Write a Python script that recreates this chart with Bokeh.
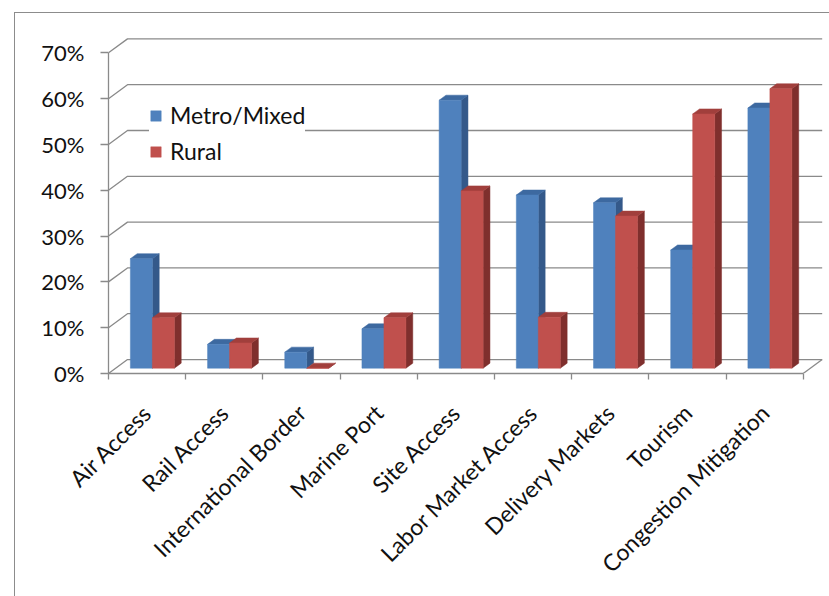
import math

from bokeh.embed import file_html
from bokeh.models import (ColumnDataSource, FixedTicker, InlineStyleSheet, Legend,
                          LegendItem, PrintfTickFormatter, Range1d)
from bokeh.plotting import figure
from bokeh.resources import INLINE

# ---- data -------------------------------------------------------------
categories = ["Air Access", "Rail Access", "International Border", "Marine Port",
              "Site Access", "Labor Market Access", "Delivery Markets", "Tourism",
              "Congestion Mitigation"]
metro_mixed = [23.9, 5.2, 3.5, 8.6, 58.5, 37.8, 36.1, 25.8, 56.8]
rural = [11.0, 5.5, 0.0, 11.0, 38.7, 11.1, 33.2, 55.5, 61.0]
series_names = ["Metro/Mixed", "Rural"]
y_ticks = [0, 10, 20, 30, 40, 50, 60, 70]

# ---- styling / 3-D projection constants ----------------------------------
FONT = "Lato"
TEXT = "#111111"
GRID = "#8a8a8a"
FRONT = ["#4f81bd", "#c0504d"]
TOP = ["#3d69a0", "#a13f3c"]
SIDE = ["#34598a", "#7f2f2d"]

W, H = 829, 596
LEFT, RIGHT, TOP_B, BOTTOM = 108, 5, 37, 223
DEPTH_X = 0.246      # oblique depth of the wall, in category units
DEPTH_Y = 3.05       # oblique depth of the wall, in percent units
BAR_FRONT = 0.38     # depth fraction where the bar front faces stand
BAR_DEPTH = 0.36     # depth fraction occupied by a bar
BAR_W = 0.285        # width of one bar in category units
PAIR_START = 0.19    # offset of the first bar inside its category
LABEL_SHIFT = 0.0

n = len(categories)
x_end = n + DEPTH_X + 0.03
y_end = y_ticks[-1] + DEPTH_Y + 0.3

# thin chart-area border along the top and left edges of the page
border_css = InlineStyleSheet(css="""
:host { position: relative; }
:host::after {
  content: "";
  position: absolute;
  left: 14px; top: 12px; right: 0; bottom: 0;
  border-left: 1.5px solid #8c8c8c;
  border-top: 1.5px solid #8c8c8c;
  pointer-events: none;
}
""")

p = figure(width=W, height=H, output_backend="svg", toolbar_location=None,
           x_range=Range1d(0, x_end), y_range=Range1d(0, y_end),
           min_border_left=LEFT, min_border_right=RIGHT,
           min_border_top=TOP_B, min_border_bottom=BOTTOM,
           background_fill_color="white", border_fill_color="white",
           stylesheets=[border_css])
p.outline_line_color = None
p.xgrid.visible = False
p.ygrid.visible = False

# ---- walls: back-wall gridlines with their left-wall diagonals ----------
grid_src = ColumnDataSource(dict(
    xs=[[0, DEPTH_X, n + DEPTH_X] for _ in y_ticks],
    ys=[[v, v + DEPTH_Y, v + DEPTH_Y] for v in y_ticks],
))
p.multi_line("xs", "ys", source=grid_src, line_color=GRID, line_width=1.3)
# right edge of the floor
p.line([n, n + DEPTH_X], [0, DEPTH_Y], line_color=GRID, line_width=1.3)

# ---- 3-D bars -------------------------------------------------------------
front_renderers = []
for s, values in enumerate([metro_mixed, rural]):
    left = [i + PAIR_START + s * BAR_W + BAR_FRONT * DEPTH_X for i in range(n)]
    right = [x + BAR_W for x in left]
    base = BAR_FRONT * DEPTH_Y
    tops = [v + base for v in values]
    ddx, ddy = BAR_DEPTH * DEPTH_X, BAR_DEPTH * DEPTH_Y
    side_xs = [[r, r + ddx, r + ddx, r] for r in right]
    side_ys = [[base, base + ddy, t + ddy, t] for t in tops]
    top_xs = [[l, r, r + ddx, l + ddx] for l, r in zip(left, right)]
    top_ys = [[t, t, t + ddy, t + ddy] for t in tops]
    src = ColumnDataSource(dict(left=left, right=right, top=tops,
                                bottom=[base] * n, side_xs=side_xs,
                                side_ys=side_ys, top_xs=top_xs, top_ys=top_ys))
    p.patches("side_xs", "side_ys", source=src, fill_color=SIDE[s],
              line_color=SIDE[s], line_width=0.5)
    p.patches("top_xs", "top_ys", source=src, fill_color=TOP[s],
              line_color=TOP[s], line_width=0.5)
    r = p.quad(left="left", right="right", top="top", bottom="bottom",
               source=src, fill_color=FRONT[s], line_color=FRONT[s],
               line_width=0.5)
    front_renderers.append(r)

# ---- axes -----------------------------------------------------------------
yaxis = p.yaxis[0]
yaxis.ticker = FixedTicker(ticks=y_ticks)
yaxis.formatter = PrintfTickFormatter(format="%d%%")
yaxis.bounds = (y_ticks[0], y_ticks[-1])
yaxis.axis_line_color = GRID
yaxis.axis_line_width = 1.3
yaxis.major_tick_line_color = GRID
yaxis.major_tick_line_width = 1.3
yaxis.major_tick_out = 8
yaxis.major_tick_in = 0
yaxis.minor_tick_line_color = None
yaxis.major_label_standoff = 16
yaxis.major_label_text_font = FONT
yaxis.major_label_text_font_size = "22px"
yaxis.major_label_text_color = TEXT

label_pos = [i + 0.5 + LABEL_SHIFT for i in range(n)]
xaxis = p.xaxis[0]
xaxis.ticker = FixedTicker(ticks=label_pos, minor_ticks=list(range(n + 1)))
xaxis.major_label_overrides = {pos: name for pos, name in zip(label_pos, categories)}
xaxis.bounds = (0, n)
xaxis.axis_line_color = GRID
xaxis.axis_line_width = 1.3
xaxis.major_tick_line_color = None
xaxis.major_tick_out = 0
xaxis.major_tick_in = 0
xaxis.minor_tick_line_color = GRID
xaxis.minor_tick_line_width = 1.3
xaxis.minor_tick_out = 6
xaxis.minor_tick_in = 0
xaxis.major_label_orientation = math.pi / 4
xaxis.major_label_standoff = 29
xaxis.major_label_text_font = FONT
xaxis.major_label_text_font_size = "23px"
xaxis.major_label_text_color = TEXT

# ---- legend ---------------------------------------------------------------
legend = Legend(items=[LegendItem(label=name, renderers=[r])
                       for name, r in zip(series_names, front_renderers)],
                location=(41, 208), orientation="vertical",
                glyph_width=13, glyph_height=13, label_standoff=8,
                padding=12, spacing=8, margin=0,
                border_line_color=None, background_fill_color="white",
                background_fill_alpha=1.0,
                label_text_font=FONT, label_text_font_size="23px",
                label_text_color=TEXT)
p.add_layout(legend)

open("out.html", "w").write(file_html(p, INLINE))
